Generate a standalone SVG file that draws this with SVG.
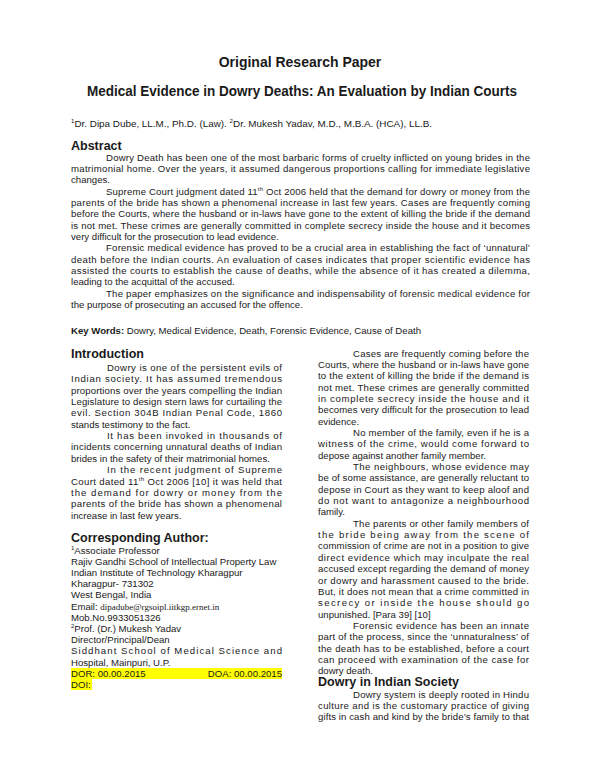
<svg xmlns="http://www.w3.org/2000/svg" width="600" height="776" viewBox="0 0 600 776">
<style>
text{font-family:"Liberation Sans",Arial,sans-serif;fill:#1a1a1a}
.b{font-size:9.6px}
.h{font-size:12.5px;font-weight:bold}
.t{font-size:14px;font-weight:bold;text-anchor:middle}
.sup{font-size:6px}
.mail{font-family:"Liberation Serif",serif;font-size:9px}
</style>
<rect width="600" height="776" fill="#fff"/>
<g id="header">
<text class="t" x="300" y="67">Original Research Paper</text>
<text class="t" x="302" y="96" textLength="430" lengthAdjust="spacingAndGlyphs">Medical Evidence in Dowry Deaths: An Evaluation by Indian Courts</text>
<text class="b" x="71" y="127" textLength="361" lengthAdjust="spacingAndGlyphs"><tspan class="sup" dy="-4">1</tspan><tspan dy="4">Dr. Dipa Dube, LL.M., Ph.D. (Law). </tspan><tspan class="sup" dy="-4">2</tspan><tspan dy="4">Dr. Mukesh Yadav, M.D., M.B.A. (HCA), LL.B.</tspan></text>
</g>
<g id="abstract">
<text class="h" x="71" y="150">Abstract</text>
<text class="b" x="106" y="160.5" textLength="424">Dowry Death has been one of the most barbaric forms of cruelty inflicted on young brides in the</text>
<text class="b" x="71" y="171.9" textLength="459">matrimonial home. Over the years, it assumed dangerous proportions calling for immediate legislative</text>
<text class="b" x="71" y="183.2">changes.</text>
<text class="b" x="106" y="194.6" textLength="424">Supreme Court judgment dated 11<tspan class="sup" dy="-4">th</tspan><tspan dy="4"> Oct 2006 held that the demand for dowry or money from the</tspan></text>
<text class="b" x="71" y="205.9" textLength="459">parents of the bride has shown a phenomenal increase in last few years. Cases are frequently coming</text>
<text class="b" x="71" y="217.3" textLength="459">before the Courts, where the husband or in-laws have gone to the extent of killing the bride if the demand</text>
<text class="b" x="71" y="228.6" textLength="459">is not met. These crimes are generally committed in complete secrecy inside the house and it becomes</text>
<text class="b" x="71" y="240">very difficult for the prosecution to lead evidence.</text>
<text class="b" x="106" y="251.3" textLength="424">Forensic medical evidence has proved to be a crucial area in establishing the fact of ‘unnatural’</text>
<text class="b" x="71" y="262.7" textLength="459">death before the Indian courts. An evaluation of cases indicates that proper scientific evidence has</text>
<text class="b" x="71" y="274" textLength="459">assisted the courts to establish the cause of deaths, while the absence of it has created a dilemma,</text>
<text class="b" x="71" y="285.4">leading to the acquittal of the accused.</text>
<text class="b" x="106" y="296.7" textLength="424">The paper emphasizes on the significance and indispensability of forensic medical evidence for</text>
<text class="b" x="71" y="308.1">the purpose of prosecuting an accused for the offence.</text>
<text class="b" x="71" y="334"><tspan font-weight="bold">Key Words:</tspan> Dowry, Medical Evidence, Death, Forensic Evidence, Cause of Death</text>
</g>
<g id="introduction">
<text class="h" x="71" y="357.5">Introduction</text>
<text class="b" x="107" y="371" textLength="175">Dowry is one of the persistent evils of</text>
<text class="b" x="71" y="382.35" textLength="211">Indian society. It has assumed tremendous</text>
<text class="b" x="71" y="393.7" textLength="211">proportions over the years compelling the Indian</text>
<text class="b" x="71" y="405.05" textLength="211">Legislature to design stern laws for curtailing the</text>
<text class="b" x="71" y="416.4" textLength="211">evil. Section 304B Indian Penal Code, 1860</text>
<text class="b" x="71" y="427.75">stands testimony to the fact.</text>
<text class="b" x="107" y="439.1" textLength="175">It has been invoked in thousands of</text>
<text class="b" x="71" y="450.45" textLength="211">incidents concerning unnatural deaths of Indian</text>
<text class="b" x="71" y="461.8">brides in the safety of their matrimonial homes.</text>
<text class="b" x="107" y="473.15" textLength="175">In the recent judgment of Supreme</text>
<text class="b" x="71" y="484.5" textLength="211">Court dated 11<tspan class="sup" dy="-4">th</tspan><tspan dy="4"> Oct 2006 [10] it was held that</tspan></text>
<text class="b" x="71" y="495.85" textLength="211">the demand for dowry or money from the</text>
<text class="b" x="71" y="507.2" textLength="211">parents of the bride has shown a phenomenal</text>
<text class="b" x="71" y="518.55">increase in last few years.</text>
</g>
<g id="author">
<rect x="71" y="668" width="211" height="11" fill="#ffff00"/>
<rect x="71" y="679" width="21" height="11" fill="#ffff00"/>
<text class="h" x="71" y="542">Corresponding Author:</text>
<text class="b" x="71" y="553.5"><tspan class="sup" dy="-4">1</tspan><tspan dy="4">Associate Professor</tspan></text>
<text class="b" x="71" y="564.7">Rajiv Gandhi School of Intellectual Property Law</text>
<text class="b" x="71" y="575.9">Indian Institute of Technology Kharagpur</text>
<text class="b" x="71" y="587.1">Kharagpur- 731302</text>
<text class="b" x="71" y="598.3">West Bengal, India</text>
<text class="b" x="71" y="609.5">Email: <tspan class="mail">dipadube@rgsoipl.iitkgp.ernet.in</tspan></text>
<text class="b" x="71" y="620.7">Mob.No.9933051326</text>
<text class="b" x="71" y="631.9"><tspan class="sup" dy="-4">2</tspan><tspan dy="4">Prof. (Dr.) Mukesh Yadav</tspan></text>
<text class="b" x="71" y="643.1">Director/Principal/Dean</text>
<text class="b" x="71" y="654.3" textLength="211">Siddhant School of Medical Science and</text>
<text class="b" x="71" y="665.5">Hospital, Mainpuri, U.P.</text>
<text class="b" x="71" y="676.7">DOR: 00.00.2015</text>
<text class="b" x="282" y="676.7" text-anchor="end">DOA: 00.00.2015</text>
<text class="b" x="71" y="687.9">DOI:</text>
</g>
<g id="right-column">
<text class="b" x="353" y="356.5" textLength="176">Cases are frequently coming before the</text>
<text class="b" x="318" y="367.85" textLength="211">Courts, where the husband or in-laws have gone</text>
<text class="b" x="318" y="379.2" textLength="211">to the extent of killing the bride if the demand is</text>
<text class="b" x="318" y="390.55" textLength="211">not met. These crimes are generally committed</text>
<text class="b" x="318" y="401.9" textLength="211">in complete secrecy inside the house and it</text>
<text class="b" x="318" y="413.25" textLength="211">becomes very difficult for the prosecution to lead</text>
<text class="b" x="318" y="424.6">evidence.</text>
<text class="b" x="353" y="435.95" textLength="176">No member of the family, even if he is a</text>
<text class="b" x="318" y="447.3" textLength="211">witness of the crime, would come forward to</text>
<text class="b" x="318" y="458.65">depose against another family member.</text>
<text class="b" x="353" y="470" textLength="176">The neighbours, whose evidence may</text>
<text class="b" x="318" y="481.35" textLength="211">be of some assistance, are generally reluctant to</text>
<text class="b" x="318" y="492.7" textLength="211">depose in Court as they want to keep aloof and</text>
<text class="b" x="318" y="504.05" textLength="211">do not want to antagonize a neighbourhood</text>
<text class="b" x="318" y="515.4">family.</text>
<text class="b" x="353" y="526.75" textLength="176">The parents or other family members of</text>
<text class="b" x="318" y="538.1" textLength="211">the bride being away from the scene of</text>
<text class="b" x="318" y="549.45" textLength="211">commission of crime are not in a position to give</text>
<text class="b" x="318" y="560.8" textLength="211">direct evidence which may inculpate the real</text>
<text class="b" x="318" y="572.15" textLength="211">accused except regarding the demand of money</text>
<text class="b" x="318" y="583.5" textLength="211">or dowry and harassment caused to the bride.</text>
<text class="b" x="318" y="594.85" textLength="211">But, it does not mean that a crime committed in</text>
<text class="b" x="318" y="606.2" textLength="211">secrecy or inside the house should go</text>
<text class="b" x="318" y="617.55">unpunished. [Para 39] [10]</text>
<text class="b" x="353" y="628.9" textLength="176">Forensic evidence has been an innate</text>
<text class="b" x="318" y="640.25" textLength="211">part of the process, since the ‘unnaturalness’ of</text>
<text class="b" x="318" y="651.6" textLength="211">the death has to be established, before a court</text>
<text class="b" x="318" y="662.95" textLength="211">can proceed with examination of the case for</text>
<text class="b" x="318" y="674.3">dowry death.</text>
<text class="h" x="318" y="686">Dowry in Indian Society</text>
<text class="b" x="353" y="697.5" textLength="176">Dowry system is deeply rooted in Hindu</text>
<text class="b" x="318" y="708.85" textLength="211">culture and is the customary practice of giving</text>
<text class="b" x="318" y="720.2" textLength="211">gifts in cash and kind by the bride’s family to that</text>
</g>
</svg>
